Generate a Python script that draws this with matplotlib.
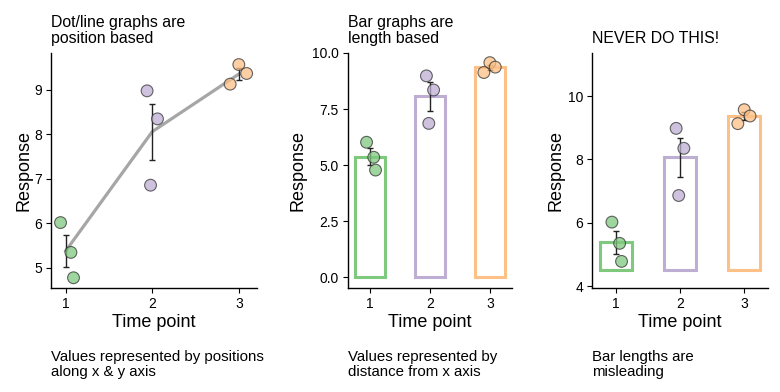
import numpy as np
import matplotlib
matplotlib.use("Agg")
import matplotlib.pyplot as plt

plt.rcParams['font.family'] = ['Liberation Sans', 'DejaVu Sans']

# ---- data ----
time_points = [1, 2, 3]
point_time = [1, 1, 1, 2, 2, 2, 3, 3, 3]
point_x = [0.94, 1.06, 1.09, 1.94, 2.06, 1.98, 3.00, 3.09, 2.90]
point_y = [6.02, 5.35, 4.78, 8.98, 8.35, 6.86, 9.57, 9.37, 9.13]
colors = ['#7FC97F', '#BEAED4', '#FDC086']

titles = ['Dot/line graphs are\nposition based', 'Bar graphs are\nlength based', 'NEVER DO THIS!']
captions = ['Values represented by positions\nalong x & y axis',
            'Values represented by\ndistance from x axis',
            'Bar lengths are\nmisleading']

# means and standard errors per time point
pt = np.array(point_time)
py = np.array(point_y)
means = np.array([py[pt == t].mean() for t in time_points])
ses = np.array([py[pt == t].std(ddof=1) / np.sqrt((pt == t).sum()) for t in time_points])
pcols = [colors[t - 1] for t in point_time]

fig = plt.figure(figsize=(7.8, 3.92), dpi=100)
ax_pos = [(51, 257), (348, 512), (592, 768)]
axes = []
for l, r in ax_pos:
    axes.append(fig.add_axes([l / 780, 1 - 288 / 392, (r - l) / 780, (288 - 53) / 392]))

# panel 1: dot/line
ax = axes[0]
ax.plot(time_points, means, color='#a6a6a6', lw=2.3, zorder=1)
ax.errorbar(time_points, means, yerr=ses, fmt='none', ecolor='#222222', elinewidth=1, capsize=2.5, capthick=1, zorder=2)
ax.scatter(point_x, point_y, s=72, c=pcols, edgecolors='#333333', linewidths=0.8, alpha=0.75, zorder=3)
ax.set_xlim(0.83, 3.21)
ax.set_ylim(4.55, 9.83)
ax.set_yticks([5, 6, 7, 8, 9])

# panel 2: bars from zero
ax = axes[1]
ax.bar(time_points, means, width=0.5, facecolor='white', edgecolor=colors, linewidth=2.2, zorder=1)
ax.errorbar(time_points, means, yerr=ses, fmt='none', ecolor='#222222', elinewidth=1, capsize=2.5, capthick=1, zorder=2)
ax.scatter(point_x, point_y, s=72, c=pcols, edgecolors='#333333', linewidths=0.8, alpha=0.75, zorder=3)
ax.set_xlim(0.63, 3.37)
ax.set_ylim(-0.48, 10.0)
ax.set_yticks([0, 2.5, 5, 7.5, 10])
ax.set_yticklabels(['0.0', '2.5', '5.0', '7.5', '10.0'])

# panel 3: bars from 4.5
ax = axes[2]
base = 4.5
ax.bar(time_points, means - base, bottom=base, width=0.5, facecolor='white', edgecolor=colors, linewidth=2.2, zorder=1)
ax.errorbar(time_points, means, yerr=ses, fmt='none', ecolor='#222222', elinewidth=1, capsize=2.5, capthick=1, zorder=2)
ax.scatter(point_x, point_y, s=72, c=pcols, edgecolors='#333333', linewidths=0.8, alpha=0.75, zorder=3)
ax.set_xlim(0.63, 3.37)
ax.set_ylim(3.94, 11.36)
ax.set_yticks([4, 6, 8, 10])

# right edge of each rotated y label, in pixels
ylab_x = [33, 307, 564]
for i, ax in enumerate(axes):
    ax.spines['top'].set_visible(False)
    ax.spines['right'].set_visible(False)
    ax.spines['left'].set_linewidth(1)
    ax.spines['bottom'].set_linewidth(1)
    ax.set_xticks(time_points)
    ax.tick_params(labelsize=10, length=3.5, width=0.8, colors='black', pad=3)
    ax.set_xlabel('Time point', fontsize=13, labelpad=2)
    ax.set_ylabel('Response', fontsize=13)
    ax.yaxis.set_label_coords((ylab_x[i] - ax_pos[i][0]) / (ax_pos[i][1] - ax_pos[i][0]), 0.5)
    ax.set_title(titles[i], loc='left', fontsize=11.4, pad=7, linespacing=1.1)
    fig.text(ax_pos[i][0] / 780, 1 - 350 / 392, captions[i], fontsize=10.8, va='top', ha='left', linespacing=1.05)

fig.savefig('out.png', dpi=100)
